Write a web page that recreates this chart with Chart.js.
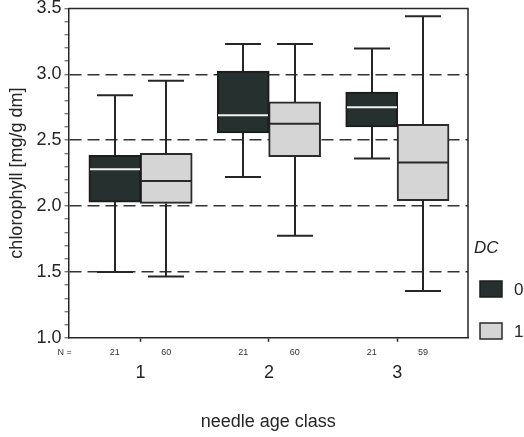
<!DOCTYPE html>
<html>
<head>
<meta charset="utf-8">
<script src="https://cdn.jsdelivr.net/npm/chart.js@4"></script>
<style>
  html, body { margin: 0; padding: 0; background: #fff; }
  #wrap { width: 524px; height: 437px; }
</style>
</head>
<body>
<div id="wrap"><canvas id="boxChart" width="524" height="437"></canvas></div>
<script>
// needle age classes on the x axis
const categories = [1, 2, 3];
const seriesLabels = ['0', '1'];

// DC = 0
const dc0Min = [1.50, 2.22, 2.36];
const dc0Q1 = [2.03, 2.555, 2.60];
const dc0Median = [2.28, 2.69, 2.75];
const dc0Q3 = [2.385, 3.025, 2.865];
const dc0Max = [2.84, 3.23, 3.195];
const dc0N = [21, 21, 21];

// DC = 1
const dc1Min = [1.465, 1.775, 1.355];
const dc1Q1 = [2.02, 2.375, 2.04];
const dc1Median = [2.19, 2.625, 2.33];
const dc1Q3 = [2.40, 2.79, 2.62];
const dc1Max = [2.95, 3.23, 3.44];
const dc1N = [60, 60, 59];

const yTickValues = [1.0, 1.5, 2.0, 2.5, 3.0, 3.5];
const dashedLevels = [1.5, 2.0, 2.5, 3.0];

const series = [
  { min: dc0Min, q1: dc0Q1, med: dc0Median, q3: dc0Q3, max: dc0Max, n: dc0N,
    fill: '#26302e', edge: '#1c1c1c', medColor: '#f2f2f2', shift: -0.2 },
  { min: dc1Min, q1: dc1Q1, med: dc1Median, q3: dc1Q3, max: dc1Max, n: dc1N,
    fill: '#d5d5d5', edge: '#2a2a2a', medColor: '#2a2a2a', shift: 0.2 }
];

const FONT = '"Liberation Sans", Arial, sans-serif';
const INK = '#262626';

const datasets = series.map((s, i) => ({
  label: seriesLabels[i],
  data: categories.map((c, j) => ({ x: c + s.shift, y: [s.q1[j], s.q3[j]] })),
  backgroundColor: s.fill,
  borderColor: s.edge,
  borderWidth: 2,
  borderSkipped: false,
  barThickness: 52,
  grouped: false
}));

// whiskers, caps, medians, frame, N row and legend
const boxExtras = {
  id: 'boxExtras',
  afterDatasetsDraw(chart) {
    const { ctx, chartArea: a, scales: { x, y } } = chart;
    ctx.save();
    ctx.lineWidth = 2;
    series.forEach(s => {
      categories.forEach((c, j) => {
        const px = Math.round(x.getPixelForValue(c + s.shift));
        const half = x.getPixelForValue(0.14) - x.getPixelForValue(0);
        const bw = 26;
        ctx.strokeStyle = INK;
        ctx.beginPath();
        ctx.moveTo(px, y.getPixelForValue(s.q3[j]));
        ctx.lineTo(px, y.getPixelForValue(s.max[j]));
        ctx.moveTo(px, y.getPixelForValue(s.q1[j]));
        ctx.lineTo(px, y.getPixelForValue(s.min[j]));
        ctx.moveTo(px - half, y.getPixelForValue(s.max[j]));
        ctx.lineTo(px + half, y.getPixelForValue(s.max[j]));
        ctx.moveTo(px - half, y.getPixelForValue(s.min[j]));
        ctx.lineTo(px + half, y.getPixelForValue(s.min[j]));
        ctx.stroke();
        ctx.strokeStyle = s.medColor;
        ctx.beginPath();
        ctx.moveTo(px - bw + 1, y.getPixelForValue(s.med[j]));
        ctx.lineTo(px + bw - 1, y.getPixelForValue(s.med[j]));
        ctx.stroke();
      });
    });

    // top and right edges of the frame
    ctx.strokeStyle = INK;
    ctx.lineWidth = 1.5;
    ctx.beginPath();
    ctx.moveTo(a.left, a.top);
    ctx.lineTo(a.right, a.top);
    ctx.lineTo(a.right, a.bottom);
    ctx.stroke();

    // case counts under each box
    ctx.fillStyle = '#333';
    ctx.font = '9px ' + FONT;
    ctx.textAlign = 'center';
    ctx.textBaseline = 'middle';
    const ny = a.bottom + 15;
    ctx.fillText('N =', a.left - 4, ny);
    series.forEach(s => {
      categories.forEach((c, j) => {
        ctx.fillText(String(s.n[j]), x.getPixelForValue(c + s.shift), ny);
      });
    });

    // legend
    const lx = a.right + 12;
    ctx.textAlign = 'left';
    ctx.font = 'italic 17px ' + FONT;
    ctx.fillStyle = INK;
    ctx.fillText('DC', lx - 6, 248);
    ctx.font = '17px ' + FONT;
    series.forEach((s, i) => {
      const top = 281 + i * 42;
      ctx.fillStyle = s.fill;
      ctx.fillRect(lx, top, 22, 16);
      ctx.strokeStyle = s.edge;
      ctx.lineWidth = 1.5;
      ctx.strokeRect(lx, top, 22, 16);
      ctx.fillStyle = INK;
      ctx.fillText(seriesLabels[i], lx + 34, top + 9);
    });
    ctx.restore();
  }
};

new Chart(document.getElementById('boxChart'), {
  type: 'bar',
  data: { datasets },
  options: {
    responsive: false,
    animation: false,
    layout: { padding: { top: 0, right: 56, bottom: 2, left: 4 } },
    plugins: { legend: { display: false }, tooltip: { enabled: false } },
    scales: {
      x: {
        type: 'linear',
        offset: false,
        min: 0.44,
        max: 3.55,
        afterBuildTicks: axis => { axis.ticks = categories.map(v => ({ value: v })); },
        ticks: { color: INK, font: { family: FONT, size: 18 }, padding: 20,
                 callback: v => String(v) },
        grid: { offset: false, drawOnChartArea: false, color: INK, tickColor: INK,
                tickLength: 4, tickWidth: 1.5 },
        border: { color: INK, width: 1.5 },
        title: { display: true, text: 'needle age class', color: INK,
                 font: { family: FONT, size: 18 }, padding: { top: 8, bottom: 2 } }
      },
      y: {
        min: 1.0,
        max: 3.5,
        ticks: {
          stepSize: 0.1,
          autoSkip: false,
          color: INK,
          padding: 3,
          font: { family: FONT, size: 18, lineHeight: 0.6 },
          callback: v => {
            const r = Math.round(v * 10) / 10;
            return yTickValues.some(t => Math.abs(t - r) < 1e-6) ? r.toFixed(1) : '';
          }
        },
        grid: {
          color: c => dashedLevels.some(t => Math.abs(t - c.tick.value) < 1e-6) ? '#333' : 'rgba(0,0,0,0)',
          lineWidth: 1.5,
          tickColor: INK,
          tickLength: 4,
          tickWidth: 1,
          tickBorderDash: [1, 0]
        },
        border: { color: INK, width: 1.5, dash: [12, 6] },
        title: { display: true, text: 'chlorophyll [mg/g dm]', color: INK,
                 font: { family: FONT, size: 18 }, padding: { top: 2, bottom: 6 } }
      }
    }
  },
  plugins: [boxExtras]
});
</script>
</body>
</html>
